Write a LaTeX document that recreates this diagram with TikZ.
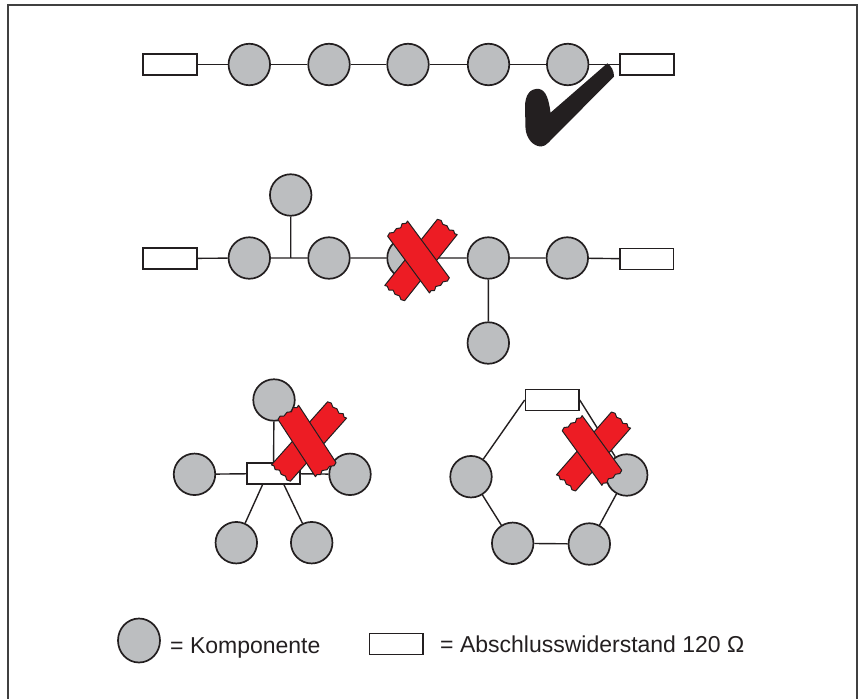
\documentclass[tikz,border=0pt]{standalone}
\usepackage{fontspec}
\setmainfont{Liberation Sans}
\usetikzlibrary{shapes.geometric}
\definecolor{ink}{HTML}{231F20}
\definecolor{compgray}{HTML}{BCBEC0}
\definecolor{xred}{HTML}{ED1C24}
\tikzset{
  comp/.style={circle, draw=ink, fill=compgray, line width=1.7pt, minimum size=41.5pt, inner sep=0pt},
  term/.style={rectangle, draw=ink, fill=white, line width=1.6pt, minimum width=53.5pt, minimum height=21pt, inner sep=0pt},
  wire/.style={draw=ink, line width=1.4pt},
  xbarstyle/.style={fill=xred, draw=ink, line width=1pt, line join=round},
  legendtext/.style={anchor=base west, inner sep=0pt, text=ink, font=\fontsize{23}{27}\selectfont},
}
\newcommand{\xbar}[4]{%
\begin{scope}[shift={(#1,#2)},rotate=#3]
\filldraw[xbarstyle] (-#4,12.5) -- (-#4-1.5,9) -- (-#4+0.5,5.5) -- (-#4-1,1) -- (-#4+1,-3) -- (-#4-1.5,-6.5) -- (-#4+0.5,-10) -- (-#4-0.5,-12.5) -- (#4,-12.5) -- (#4+1.5,-9) -- (#4-0.5,-5) -- (#4+1,-1) -- (#4-1,3.5) -- (#4+1.5,7) -- (#4-0.5,10) -- (#4+0.5,12.5) -- cycle;
\end{scope}}
\begin{document}
\begin{tikzpicture}[x=1pt,y=-1pt]
\useasboundingbox (0,0) rectangle (858,698);
\draw[color=black!75, line width=1.6pt] (8,5) rectangle (857,720);

% Row 1
\node[term] (r1l) at (170,64.5) {};
\node[comp] (a1) at (249.3,64.5) {};
\node[comp] (a2) at (329,64.5) {};
\node[comp] (a3) at (408,64.5) {};
\node[comp] (a4) at (488.5,64.5) {};
\node[comp] (a5) at (567.7,64.5) {};
\node[term] (r1r) at (647,64.5) {};
\path[wire] (r1l) -- (a1) (a1) -- (a2) (a2) -- (a3) (a3) -- (a4) (a4) -- (a5) (a5) -- (r1r);
% checkmark
\fill[ink] (607.3,63.3) -- (550.5,112.7) .. controls (549,100) and (546,90) .. (539,89)
  .. controls (530,88) and (525,95) .. (525,107) -- (525.5,128)
  .. controls (526,138) and (533,146.5) .. (541,146.5)
  .. controls (544,146.5) and (546,145) .. (548.5,142.5) -- (614,76.5)
  .. controls (614,71) and (611.5,66) .. (607.3,63.3) -- cycle;

% Row 2
\coordinate (j1) at (290.7,258);
\node[term] (r2l) at (170,258.5) {};
\node[comp] (b1) at (249.3,258) {};
\node[comp] (b2) at (329,258) {};
\node[comp] (b3) at (408,258) {};
\node[comp] (b4) at (488.3,258) {};
\node[comp] (b5) at (567.3,258) {};
\node[term] (r2r) at (646.7,259) {};
\node[comp] (bt) at (290.7,195) {};
\node[comp] (bb) at (488.3,343) {};
\path[wire] (r2l) -- (b1) (b1) -- (b2) (b2) -- (b3) (b3) -- (b4) (b4) -- (b5) (b5) -- (r2r)
  (j1) -- (bt) (b4) -- (bb);
\xbar{421}{260}{51.5}{42}
\xbar{418.5}{257}{-53.6}{35}

% Star
\node[term] (sr) at (273.5,473.5) {};
\node[comp] (st) at (274,400) {};
\node[comp] (sl) at (194.5,474.3) {};
\node[comp] (sri) at (350,474.3) {};
\node[comp] (sbl) at (236.3,542.7) {};
\node[comp] (sbr) at (311.7,542.7) {};
\path[wire] (st) -- (sr) (sl) -- (sr) (sr) -- (sri)
  ([xshift=-11pt]sr.south) -- (sbl) ([xshift=10.5pt]sr.south) -- (sbr);
\node[term] at (sr) {};
\xbar{309}{441.5}{48.3}{42}
\xbar{307}{441}{-56.8}{34}

% Ring
\node[term] (rr) at (552.2,400) {};
\node[comp] (rl) at (471,476.7) {};
\node[comp] (rri) at (626.7,475) {};
\node[comp] (rbl) at (512.7,543.3) {};
\node[comp] (rbr) at (589.3,544) {};
\path[wire] (rr.west) -- (rl) (rr.east) -- (rri) (rl) -- (rbl) (rbl) -- (rbr) (rbr) -- (rri);
\xbar{593.5}{451.5}{48.8}{41.5}
\xbar{592}{450.5}{-54}{33.5}

% Legend
\node[ellipse, draw=ink, fill=compgray, line width=1.7pt, minimum width=42pt, minimum height=44pt, inner sep=0pt] (lc) at (139,640.5) {};
\node[legendtext] (lt1) at (170,653) {= Komponente};
\node[term] (lr) at (396.3,643.8) {};
\node[legendtext] (lt2) at (440,652) {= Abschlusswiderstand 120 Ω};
\end{tikzpicture}
\end{document}
